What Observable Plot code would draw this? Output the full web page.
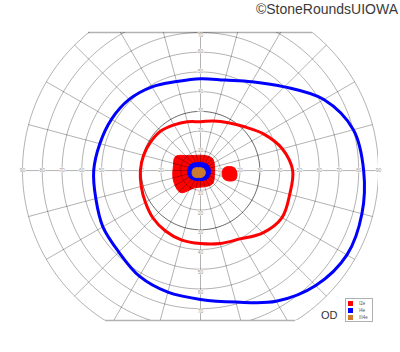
<!DOCTYPE html>
<html><head><meta charset="utf-8">
<script src="https://cdn.jsdelivr.net/npm/d3@7"></script>
<script src="https://cdn.jsdelivr.net/npm/@observablehq/plot@0.6"></script>
<style>
body{margin:0;background:#fff;font-family:"Liberation Sans",Arial,sans-serif;}
#wrap{position:relative;width:400px;height:352px;overflow:hidden;}
#copy{position:absolute;right:2px;top:1px;font-size:14px;color:#3a3a3a;white-space:nowrap;}
#eye{position:absolute;left:321px;top:309px;font-size:11px;color:#333;}
#legend{position:absolute;left:345px;top:298px;width:26px;height:22px;border:1px solid #b0b0b0;background:#fff;}
#legend .row{position:absolute;left:2px;height:5px;display:flex;align-items:center;font-size:4.5px;color:#555;}
#legend .sw{width:5px;height:5px;margin-right:6px;display:inline-block;}
</style></head>
<body><div id="wrap"><div id="chart"></div><div id="copy"></div><div id="eye"></div><div id="legend"></div></div>
<script>
// ---- data ----
const meridians = [0,15,30,45,60,75,90,105,120,135,150,165,180,195,210,225,240,255,270,285,300,315,330,345];
const i4eEcc = [82.5,80,72,60,52,47.5,46.6,46.7,49,51,52,52.7,54,54.8,57,58.4,61.8,63.8,65.3,69,76.5,82.4,85.5,84.5];
const i2eEcc = [46.6,42.8,37,31.4,28,26,24.8,25.6,26.8,28.4,29.1,29.8,30.4,31,32.2,34,35.4,36.5,37,38.3,40,44.6,47.6,46.7];
// scotomas: [meridian, eccentricity]
const i2eCentralScotoma = [[150.8,14.5],[123.7,9.1],[71.6,8.0],[45,8.6],[19.7,7.5],[340,7.5],[312.7,9.0],[287,8.5],[253.6,9.0],[227.7,15.0],[200.3,14.6],[169.5,13.9]];
const i2eBlindSpot = [[355.3,18.5],[4.2,17.3],[7.85,14.8],[6.1,12.0],[352,11.0],[340.1,12.7],[340.1,15.6],[345.6,18.3]];
const i4eScotoma = [[354.3,5.1],[40.6,4.7],[104,4.2],[149,5.9],[184.4,6.6],[218.7,6.5],[264.3,5.1],[311.2,5.4]];
const iii4eScotoma = [[338,2.7],[33.7,1.8],[123.7,1.8],[164,3.7],[193,4.4],[220.6,4.7],[254,3.7],[296.6,3.4]];
const rings = [10,20,30,40,50,60,70,80,90];
const gridMeridians = d3.range(0,360,15);
const leftLabels = [20,30,40,50,60,70,80,90];
const leftHiddenLabels = [10];
const rightLabels = [10,20,30,40,50,60,70,80,90];
const upLabels = [10,20,30,40,50,60];
const downLabels = [10,20,30,40,50,60,70];
const topLabel = [70];
const legendItems = [["I2e","#ff0000"],["I4e","#0000ff"],["III4e","#cc7a2e"]];
const copyright = "©StoneRoundsUIOWA";
const eye = "OD";
const yTop = 70, yBottom = -76;

// ---- helpers ----
const rad = Math.PI/180;
const toXY = (a, e) => ({x: e*Math.cos(a*rad), y: e*Math.sin(a*rad)});
const isopter = ecc => meridians.map((m,i) => toXY(m, ecc[i]));
const blob = pts => pts.map(([a,e]) => toXY(a,e));
const ringPts = rings.flatMap(r => d3.range(0,361,2).map(a => ({r, ...toXY(a, r)})));
const spokes = gridMeridians.map(a => ({x1:0,y1:0, x2:90*Math.cos(a*rad), y2:90*Math.sin(a*rad)}));

const labelStyle = {fill:"#999", stroke:"white", strokeWidth:1.2, fontSize:5, fontFamily:"Liberation Sans, Arial"};

const chart = Plot.plot({
  width:400, height:352,
  marginLeft:22, marginRight:22, marginTop:32, marginBottom:32,
  x:{domain:[-90,90], axis:null},
  y:{domain:[yBottom,yTop], axis:null},
  marks:[
    Plot.text(leftHiddenLabels, {x:d=>-d, y:0, text:d=>d, ...labelStyle}),
    Plot.line(blob(i2eCentralScotoma), {x:"x", y:"y", curve:"catmull-rom-closed", fill:"#ff0000", stroke:"#ff0000", strokeWidth:1}),
    Plot.line(ringPts.filter(d=>d.r!==30), {x:"x", y:"y", z:"r", stroke:"black", strokeOpacity:0.3, strokeWidth:1, clip:true}),
    Plot.line(ringPts.filter(d=>d.r===30), {x:"x", y:"y", z:"r", stroke:"black", strokeOpacity:0.6, strokeWidth:1, clip:true}),
    Plot.link(spokes, {x1:"x1", y1:"y1", x2:"x2", y2:"y2", stroke:"black", strokeOpacity:0.3, strokeWidth:1, clip:true}),
    Plot.ruleY([yTop, yBottom], {x1:d=>-Math.sqrt(90*90-d*d), x2:d=>Math.sqrt(90*90-d*d), stroke:"black", strokeOpacity:0.3, strokeWidth:1.5}),
    Plot.text(leftLabels, {x:d=>-d, y:0, text:d=>d, ...labelStyle}),
    Plot.text(rightLabels, {x:d=>d, y:0, text:d=>d, ...labelStyle}),
    Plot.text(upLabels, {x:0, y:d=>d, text:d=>d, lineAnchor:"bottom", dy:1, ...labelStyle}),
    Plot.text(topLabel, {x:0, y:d=>d, text:d=>d, lineAnchor:"top", dy:1, ...labelStyle}),
    Plot.text(downLabels, {x:0, y:d=>-d, text:d=>d, lineAnchor:"top", dy:1, ...labelStyle}),
    Plot.line(blob(i2eBlindSpot), {x:"x", y:"y", curve:"catmull-rom-closed", fill:"#ff0000", stroke:"#ff0000", strokeWidth:1}),
    Plot.line(isopter(i2eEcc), {x:"x", y:"y", curve:"catmull-rom-closed", stroke:"#ff0000", strokeWidth:3}),
    Plot.line(isopter(i4eEcc), {x:"x", y:"y", curve:"catmull-rom-closed", stroke:"#0000ff", strokeWidth:3}),
    Plot.line(blob(i4eScotoma), {x:"x", y:"y", curve:"catmull-rom-closed", fill:"#0000ff", stroke:"#0000ff", strokeWidth:1}),
    Plot.line(blob(iii4eScotoma), {x:"x", y:"y", curve:"catmull-rom-closed", fill:"#cc7a2e", stroke:"#cc7a2e", strokeWidth:1})
  ]
});
document.getElementById("chart").appendChild(chart);
document.getElementById("copy").textContent = copyright;
document.getElementById("eye").textContent = eye;
const lg = document.getElementById("legend");
legendItems.forEach(([name,color],i) => {
  const row = document.createElement("div");
  row.className = "row";
  row.style.top = (2 + i*7) + "px";
  row.innerHTML = `<span class="sw" style="background:${color}"></span><span>${name}</span>`;
  lg.appendChild(row);
});
</script></body></html>
